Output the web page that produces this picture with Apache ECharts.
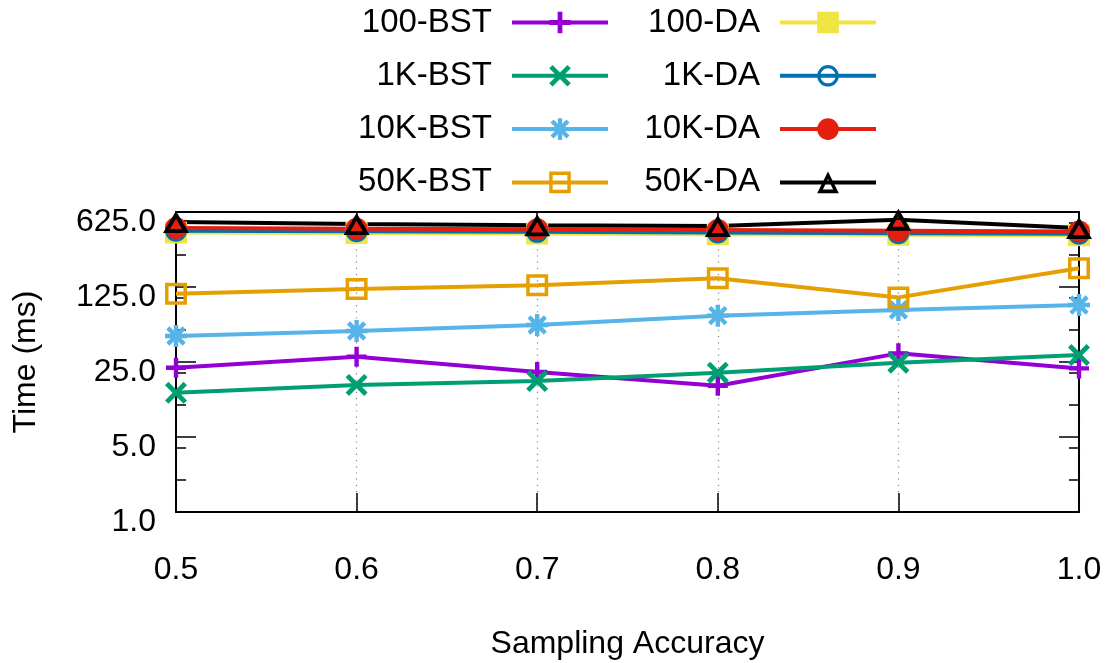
<!DOCTYPE html>
<html>
<head>
<meta charset="utf-8">
<script src="https://cdn.jsdelivr.net/npm/echarts@6/dist/echarts.min.js"></script>
<style>
  html, body { margin: 0; padding: 0; background: #fff; }
  #chart { width: 1107px; height: 663px; }
</style>
</head>
<body>
<div id="chart"></div>
<script>
// ---- data ----
const accuracy = [0.5, 0.6, 0.7, 0.8, 0.9, 1.0];
const bst100 = [22.1, 28.0, 20.2, 15.0, 30.1, 21.8];
const bst1k = [12.9, 15.3, 16.6, 19.9, 24.6, 29.0];
const bst10k = [43.7, 48.6, 55.3, 67.6, 76.3, 84.9];
const bst50k = [108, 120, 130, 151, 100, 187];
const da100 = [402, 398, 394, 388, 384, 380];
const da1k = [418, 413, 408, 402, 397, 392];
const da10k = [443, 437, 431, 424, 418, 412];
const da50k = [504, 483, 470, 463, 530, 443];
const yMajorTicks = [1, 5, 25, 125, 625];
const yMinorTicks = [2, 4, 10, 20, 50, 100, 250, 500];

const FONT = 'Liberation Sans';

// ---- symbols ----
const SYM_PLUS = 'path://M7.8,0H12.2V7.8H20V12.2H12.2V20H7.8V12.2H0V7.8H7.8Z';
const SYM_X = 'path://M0,3.1L3.1,0L20,16.9L16.9,20Z M16.9,0L20,3.1L3.1,20L0,16.9Z';
const SYM_STAR = 'path://M8,0H12V8H20V12H12V20H8V12H0V8H8Z M1.2,4L4,1.2L18.8,16L16,18.8Z M16,1.2L18.8,4L4,18.8L1.2,16Z';
const SYM_OSQUARE = 'path://M0,0H20V20H0Z M3.2,3.2V16.8H16.8V3.2Z';
const SYM_OCIRCLE = 'path://M0,10A10,10 0 1,1 20,10A10,10 0 1,1 0,10Z M3,10A7,7 0 1,0 17,10A7,7 0 1,0 3,10Z';
const SYM_OTRI = 'path://M10,0L20,17L0,17Z M10,5.92L5.25,14L14.75,14Z';

function mk(name, vals, color, symbol, size) {
  return {
    name: name,
    type: 'line',
    xAxisIndex: 0,
    yAxisIndex: 0,
    data: accuracy.map((x, i) => [x, vals[i]]),
    symbol: symbol,
    symbolSize: size,
    showSymbol: true,
    showAllSymbol: true,
    lineStyle: { width: 4, color: color },
    itemStyle: { color: color },
    emphasis: { disabled: true },
    animation: false
  };
}

const series = [
  mk('100-BST', bst100, '#9400D3', SYM_PLUS, 20),
  mk('1K-BST', bst1k, '#009E73', SYM_X, 22),
  mk('10K-BST', bst10k, '#56B4E9', SYM_STAR, 22),
  mk('50K-BST', bst50k, '#E69F00', SYM_OSQUARE, 22),
  mk('100-DA', da100, '#F0E442', 'rect', 22),
  mk('1K-DA', da1k, '#0072B2', SYM_OCIRCLE, 22),
  mk('10K-DA', da10k, '#E51E10', 'circle', 22),
  mk('50K-DA', da50k, '#000000', SYM_OTRI, [26, 22])
];

const blackLine = { color: '#000', width: 2 };
const tickLine = { color: '#000', width: 1.5 };
const fmt1 = v => Number(v).toFixed(1);

function yAx(pos, major, withLabel) {
  const ax = {
    type: 'log',
    logBase: 5,
    min: 1,
    max: 625,
    position: pos,
    axisLine: { show: major, lineStyle: blackLine },
    axisTick: {
      show: true, inside: true, length: major ? 20 : 10,
      customValues: major ? yMajorTicks : yMinorTicks,
      lineStyle: tickLine
    },
    axisLabel: { show: false },
    splitLine: { show: false },
    minorTick: { show: false },
    minorSplitLine: { show: false }
  };
  if (withLabel) {
    ax.axisLabel = {
      show: true, customValues: yMajorTicks, formatter: fmt1,
      fontSize: 32, fontFamily: FONT, color: '#000', margin: 20,
      verticalAlign: 'top', lineHeight: 20
    };
    ax.name = 'Time (ms)';
    ax.nameLocation = 'middle';
    ax.nameGap = 134;
    ax.nameTextStyle = { fontSize: 32, fontFamily: FONT, color: '#000' };
  }
  return ax;
}

function legend(names, right) {
  return {
    data: names,
    orient: 'vertical',
    align: 'right',
    right: right,
    top: 6,
    padding: 0,
    itemWidth: 96,
    itemHeight: 27,
    itemGap: 20.3,
    selectedMode: false,
    lineStyle: { width: 4 },
    textStyle: { fontSize: 33, fontFamily: FONT, color: '#000', width: 145, padding: [0, 15, 0, 0] }
  };
}

const option = {
  animation: false,
  backgroundColor: '#fff',
  textStyle: { fontFamily: FONT },
  grid: { left: 176, right: 28, top: 212, bottom: 151, containLabel: false, outerBoundsMode: 'none' },
  legend: [
    legend(['100-BST', '1K-BST', '10K-BST', '50K-BST'], 497),
    legend(['100-DA', '1K-DA', '10K-DA', '50K-DA'], 229)
  ],
  xAxis: [
    {
      type: 'value', position: 'bottom', min: 0.5, max: 1.0, interval: 0.1,
      axisLine: { show: true, onZero: false, lineStyle: blackLine },
      axisTick: { show: true, inside: true, length: 19, lineStyle: tickLine },
      axisLabel: { fontSize: 32, fontFamily: FONT, color: '#000', margin: 42, formatter: fmt1 },
      splitLine: { show: true, lineStyle: { color: '#888', width: 1.2, type: [1.2, 5] } },
      name: 'Sampling Accuracy', nameLocation: 'middle', nameGap: 116,
      nameTextStyle: { fontSize: 32, fontFamily: FONT, color: '#000' }
    },
    {
      type: 'value', position: 'top', min: 0.5, max: 1.0, interval: 0.1,
      axisLine: { show: true, onZero: false, lineStyle: blackLine },
      axisTick: { show: true, inside: true, length: 19, lineStyle: tickLine },
      axisLabel: { show: false },
      splitLine: { show: false }
    }
  ],
  yAxis: [
    yAx('left', true, true),
    yAx('left', false, false),
    yAx('right', true, false),
    yAx('right', false, false)
  ],
  series: series
};

const chart = echarts.init(document.getElementById('chart'), null, { renderer: 'canvas' });
chart.setOption(option);
</script>
</body>
</html>
